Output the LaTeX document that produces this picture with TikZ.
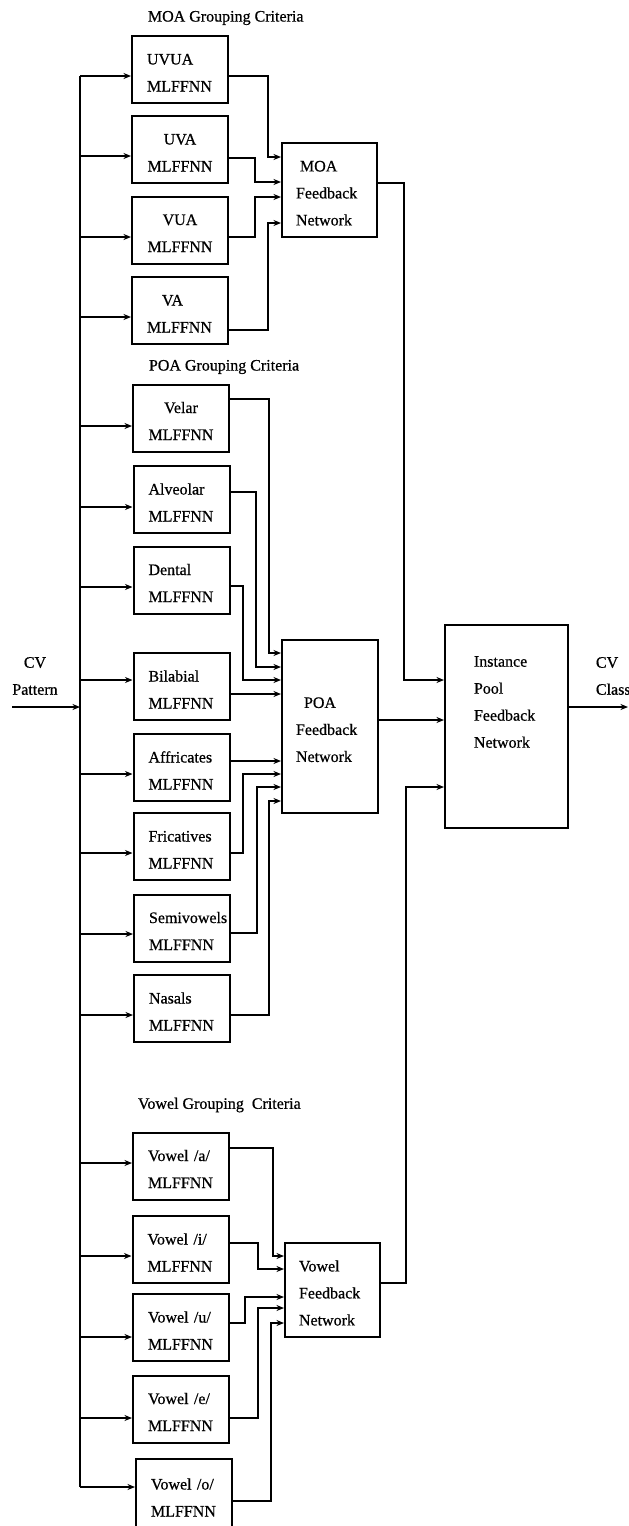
\documentclass[tikz,border=0pt]{standalone}
\usepackage{fontspec}
\setmainfont{Liberation Serif}[FakeBold=0.6]
\usetikzlibrary{arrows.meta}
\begin{document}
\begin{tikzpicture}[x=1pt,y=-1pt,
  line width=1.9pt,
  arr/.style={-{Stealth[length=7.5pt,width=6pt]}},
  txt/.style={font=\fontsize{16}{27}\selectfont, inner sep=0pt},
  mbox/.style={draw, line width=2pt, minimum width=96pt, minimum height=67pt,
    text width=66pt, inner xsep=15pt, inner ysep=0pt,
    font=\fontsize{16}{27}\selectfont, align=left,
    execute at begin node={\rule{0pt}{17pt}}},
  fbox/.style={draw, line width=2pt, inner xsep=14pt, inner ysep=0pt,
    font=\fontsize{16}{27}\selectfont, align=left,
    execute at begin node={\rule{0pt}{17pt}}}
]
\fill[white] (0,0) rectangle (629,1526);
\useasboundingbox (0,0) rectangle (629,1526);

% group labels
\node[txt, anchor=west] (moalbl) at (147,18) {MOA Grouping Criteria};
\node[txt, anchor=west] (poalbl) at (148,367) {POA Grouping Criteria};
\node[txt, anchor=west] (vowlbl) at (137,1105) {Vowel Grouping\hspace{4pt} Criteria};

% MLFFNN boxes
\node[mbox] (uvua) at (180,69.5) {UVUA\\MLFFNN};
\node[mbox, align=center] (uva) at (180,149.5) {UVA\\MLFFNN};
\node[mbox, align=center] (vua) at (180,230) {VUA\\MLFFNN};
\node[mbox] (va) at (180,310.5) {\hspace*{15pt}VA\\MLFFNN};
\node[mbox, align=center] (velar) at (181,418) {Velar\\MLFFNN};
\node[mbox] (alveolar) at (181.5,499.5) {Alveolar\\MLFFNN};
\node[mbox] (dental) at (181.5,580) {Dental\\MLFFNN};
\node[mbox] (bilabial) at (181.5,686.5) {Bilabial\\MLFFNN};
\node[mbox] (affricates) at (181.5,767.5) {Affricates\\MLFFNN};
\node[mbox] (fricatives) at (181.5,846.5) {Fricatives\\MLFFNN};
\node[mbox] (semivowels) at (182,928) {Semivowels\\MLFFNN};
\node[mbox] (nasals) at (182,1008.5) {Nasals\\MLFFNN};
\node[mbox] (vowa) at (181,1166) {Vowel /a/\\MLFFNN};
\node[mbox] (vowi) at (180.5,1249.5) {Vowel /i/\\MLFFNN};
\node[mbox] (vowu) at (181,1327.5) {Vowel /u/\\MLFFNN};
\node[mbox] (vowe) at (181,1409) {Vowel /e/\\MLFFNN};
\node[mbox, minimum height=71pt] (vowo) at (184,1494.5) {Vowel /o/\\MLFFNN};

% feedback networks
\node[fbox, minimum width=95pt, minimum height=94pt, text width=67pt] (moa) at (329.5,190)
  {\hspace*{4pt}MOA\\Feedback\\Network};
\node[fbox, minimum width=96pt, minimum height=173pt, text width=68pt] (poa) at (330,726.5)
  {\hspace*{8pt}POA\\Feedback\\Network};
\node[fbox, minimum width=95pt, minimum height=94pt, text width=67pt] (vfb) at (332.5,1290)
  {Vowel\\Feedback\\Network};
\node[draw, line width=2pt, minimum width=123pt, minimum height=203pt] (ipool) at (506.5,726.5) {};
\node[txt, anchor=west, align=left] (iptext) at (473,702) {Instance\\Pool\\Feedback\\Network};

% input / output labels
\node[txt, align=center] (cvin) at (35,676) {CV\\Pattern};
\node[txt, anchor=west, align=left] (cvout) at (595,676) {CV\\Class};

% bus
\coordinate (bustop) at (80,76);
\coordinate (busbot) at (80,1487);
\coordinate (instart) at (12,707);
\coordinate (outend) at (628,707);
\draw (bustop) -- (busbot);
\draw[arr] (instart) -- (bustop |- instart);

\foreach \n/\y in {uvua/76, uva/156, vua/237, va/317, velar/426, alveolar/507,
  dental/587, bilabial/680, affricates/774, fricatives/853, semivowels/934,
  nasals/1015, vowa/1163, vowi/1256, vowu/1337, vowe/1418, vowo/1487}
  \draw[arr] (bustop |- 0,\y) -- (\n.west |- 0,\y);

\foreach \n/\yo/\xm/\yi/\t in {uvua/76/268/157/moa, uva/158/255/182/moa,
  vua/237/255/197/moa, va/330/268/223/moa,
  velar/399/269/653/poa, alveolar/492/256/667/poa, dental/586/243/680/poa,
  fricatives/853/243/774/poa, semivowels/933/257/787/poa, nasals/1015/269/801/poa,
  vowa/1148/273/1256/vfb, vowi/1243/258/1269/vfb, vowu/1323/245/1297/vfb,
  vowe/1418/258/1308/vfb, vowo/1501/271/1323/vfb}
  \draw[arr] (\n.east |- 0,\yo) -| (\xm,\yi) -- (\t.west |- 0,\yi);

\draw[arr] (bilabial.east |- 0,694) -- (poa.west |- 0,694);
\draw[arr] (affricates.east |- 0,761) -- (poa.west |- 0,761);

\draw[arr] (moa.east |- 0,183) -| (404,680) -- (ipool.west |- 0,680);
\draw[arr] (poa.east |- 0,720) -- (ipool.west |- 0,720);
\draw[arr] (vfb.east |- 0,1283) -| (406,787) -- (ipool.west |- 0,787);
\draw[arr] (ipool.east |- outend) -- (outend);
\end{tikzpicture}
\end{document}
